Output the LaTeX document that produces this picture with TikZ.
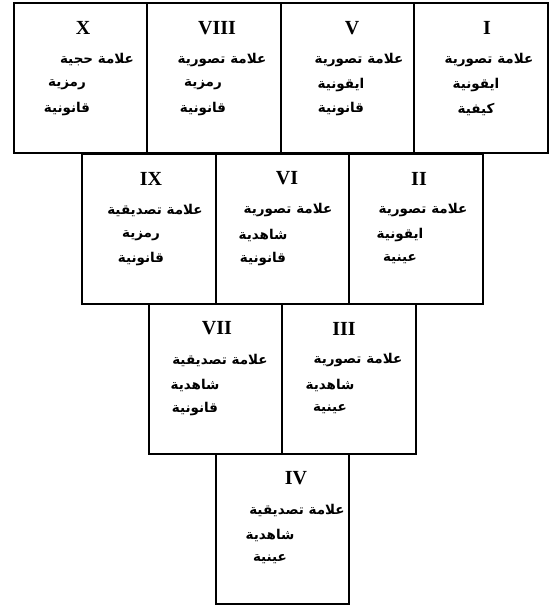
\documentclass[tikz,border=0pt]{standalone}
\usepackage{fontspec}
\setmainfont{Liberation Serif}
\newfontfamily\arabicfont[Script=Arabic]{DejaVu Sans}
\TeXXeTstate=1
\tikzset{
  signbox/.style={draw, line width=2pt, minimum width=133.5pt, minimum height=150pt, anchor=north west, inner sep=0pt},
  numeral/.style={font=\fontsize{20}{20}\selectfont\bfseries, inner sep=0pt},
  artext/.style={font=\arabicfont\bfseries\fontsize{13.5}{13.5}\selectfont, inner sep=0pt}
}
% \mysignbox{numeral}{x}{top}{xn}{x1}{x23}{l1}{l2}{l3}
\newcommand\mysignbox[9]{%
  \node[signbox] (b#1) at (#2,#3) {};
  \node[numeral] (n#1) at (#4,#3+26) {#1};
  \node[artext] (a#1) at (#5,#3+58) {#7};
  \node[artext] (c#1) at (#6,#3+83) {#8};
  \node[artext] (d#1) at (#6,#3+107) {#9};
}
\begin{document}
\begin{tikzpicture}[x=1pt,y=-1pt]
\useasboundingbox (0,0) rectangle (551,608);
% row 1
\mysignbox{X}{12.5}{2}{83}{97}{67}{\beginR علامة حجية\endR}{\beginR رمزية\endR}{\beginR قانونية\endR}
\mysignbox{VIII}{146}{2}{217}{222}{203}{\beginR علامة تصورية\endR}{\beginR رمزية\endR}{\beginR قانونية\endR}
\mysignbox{V}{279.5}{2}{352}{359}{341}{\beginR علامة تصورية\endR}{\beginR ايقونية\endR}{\beginR قانونية\endR}
\mysignbox{I}{413}{2}{487}{489}{476}{\beginR علامة تصورية\endR}{\beginR ايقونية\endR}{\beginR كيفية\endR}
% row 2
\mysignbox{IX}{81}{152.5}{151}{155}{141}{\beginR علامة تصديقية\endR}{\beginR رمزية\endR}{\beginR قانونية\endR}
\mysignbox{VI}{214.5}{152.5}{287}{288}{263}{\beginR علامة تصورية\endR}{\beginR شاهدية\endR}{\beginR قانونية\endR}
\mysignbox{II}{348}{152.5}{419}{423}{400}{\beginR علامة تصورية\endR}{\beginR ايقونية\endR}{\beginR عينية\endR}
% row 3
\mysignbox{VII}{147.5}{302.5}{217}{220}{195}{\beginR علامة تصديقية\endR}{\beginR شاهدية\endR}{\beginR قانونية\endR}
\mysignbox{III}{281}{302.5}{344}{358}{330}{\beginR علامة تصورية\endR}{\beginR شاهدية\endR}{\beginR عينية\endR}
% row 4
\mysignbox{IV}{214.5}{452.5}{296}{297}{270}{\beginR علامة تصديقية\endR}{\beginR شاهدية\endR}{\beginR عينية\endR}
\end{tikzpicture}
\end{document}
